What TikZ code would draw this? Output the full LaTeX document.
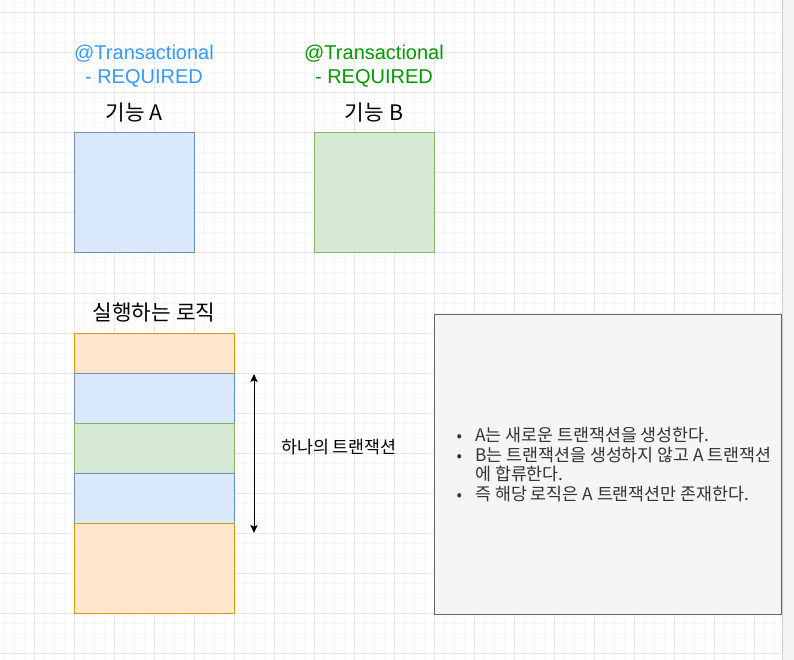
\documentclass[tikz,border=0pt]{standalone}
\usepackage{fontspec}
\setmainfont{Liberation Sans}
\newfontfamily\kr{Noto Sans CJK KR}
\usetikzlibrary{positioning,arrows.meta}

\definecolor{gridmajor}{HTML}{E6E6E6}
\definecolor{gridminor}{HTML}{F6F6F6}
\definecolor{panelbg}{HTML}{F3F4F6}
\definecolor{blueFill}{HTML}{DAE8FC}
\definecolor{blueLine}{HTML}{6C8EBF}
\definecolor{greenFill}{HTML}{D5E8D4}
\definecolor{greenLine}{HTML}{82B366}
\definecolor{orangeFill}{HTML}{FFE6CC}
\definecolor{orangeLine}{HTML}{D79B00}
\definecolor{noteFill}{HTML}{F5F5F5}
\definecolor{noteLine}{HTML}{666666}
\definecolor{noteText}{HTML}{333333}
\definecolor{txBlue}{HTML}{3399FF}
\definecolor{txGreen}{HTML}{009900}

\tikzset{
  cell/.style={draw, line width=0.75pt, inner sep=0pt, outer sep=0pt},
  funcbox/.style={cell, minimum width=90pt, minimum height=90pt},
  seg/.style={cell, minimum width=120pt},
  txlabel/.style={align=center, font=\fontsize{15pt}{18pt}\selectfont},
  title/.style={font=\kr\fontsize{16pt}{18pt}\selectfont},
  small/.style={font=\kr\fontsize{13pt}{14.6pt}\selectfont}
}

\begin{document}
\begin{tikzpicture}[x=0.75pt, y=-0.75pt]
    \useasboundingbox (0,0) rectangle (794,660);
    % Canvas grid
    \fill[white] (0,0) rectangle (782,660);
    \foreach \x in {4.5,14.5,...,780} \draw[gridminor, line width=0.75pt] (\x,0) -- (\x,660);
    \foreach \y in {3,13,...,660} \draw[gridminor, line width=0.75pt] (0,\y) -- (781,\y);
    \foreach \x in {34.5,74.5,...,780} \draw[gridmajor, line width=0.75pt] (\x,0) -- (\x,660);
    \foreach \y in {13,53,...,660} \draw[gridmajor, line width=0.75pt] (0,\y) -- (781,\y);
    \fill[panelbg] (782,0) rectangle (794,660);
    \draw[gray!40, line width=0.75pt] (782,0) -- (782,660);

    % Annotations
    \node[txlabel, txBlue] (txA) at (144,66) {@Transactional\\- REQUIRED};
    \node[txlabel, txGreen] (txB) at (374,66) {@Transactional\\- REQUIRED};

    % Functions A and B
    \node[title] (titleA) at (134,113) {기능 A};
    \node[funcbox, fill=blueFill, draw=blueLine] (funcA) at (134,193) {};
    \node[title] (titleB) at (374,113) {기능 B};
    \node[funcbox, fill=greenFill, draw=greenLine] (funcB) at (374,193) {};

    % Executed logic stack
    \node[title] (titleLogic) at (154,313) {실행하는 로직};
    \node[seg, minimum height=30pt, fill=orangeFill, draw=orangeLine, anchor=north] (seg1) at (154,333) {};
    \node[seg, minimum height=37.5pt, fill=blueFill, draw=blueLine, below=0pt of seg1] (seg2) {};
    \node[seg, minimum height=37.5pt, fill=greenFill, draw=greenLine, below=0pt of seg2] (seg3) {};
    \node[seg, minimum height=37.5pt, fill=blueFill, draw=blueLine, below=0pt of seg3] (seg4) {};
    \node[seg, minimum height=67.5pt, fill=orangeFill, draw=orangeLine, below=0pt of seg4] (seg5) {};

    % One transaction span
    \coordinate (txTop) at (254,374);
    \coordinate (txBot) at (254,533);
    \draw[line width=0.75pt, {Stealth[length=6pt,width=5.5pt,inset=1.2pt]}-{Stealth[length=6pt,width=5.5pt,inset=1.2pt]}] (txTop) -- (txBot);
    \node[small] (txSpan) at (339,447) {하나의 트랜잭션};

    % Note
    \node[cell, fill=noteFill, draw=noteLine, minimum width=260.25pt, minimum height=225pt] (note) at (607.5,464) {};
    \node[small, noteText, align=left, anchor=west, inner sep=0pt] (noteList) at (443,464.5)
        {\makebox[24pt][c]{\large•}A는 새로운 트랜잭션을 생성한다.\\
         \makebox[24pt][c]{\large•}B는 트랜잭션을 생성하지 않고 A 트랜잭션\\
         \hspace*{24pt}에 합류한다.\\
         \makebox[24pt][c]{\large•}즉 해당 로직은 A 트랜잭션만 존재한다.};
\end{tikzpicture}
\end{document}
